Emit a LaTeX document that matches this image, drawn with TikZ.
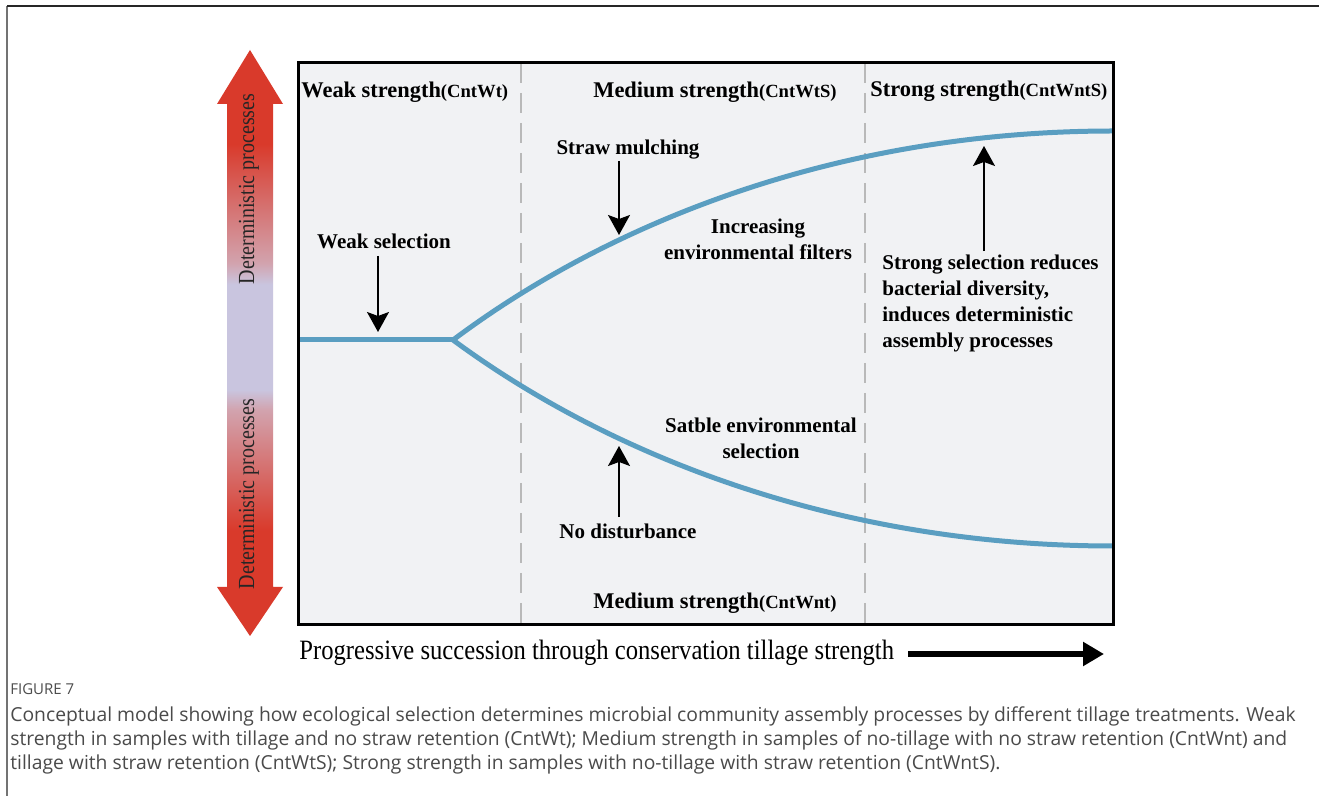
\documentclass[tikz,border=0pt]{standalone}
\usepackage{graphicx}
\usepackage{fontspec}
\setmainfont{Liberation Serif}
\newfontfamily\capfont{Open Sans}
\usetikzlibrary{arrows.meta}

\definecolor{detred}{HTML}{D93A2B}
\definecolor{detpink}{HTML}{D2A3AE}
\definecolor{detlav}{HTML}{C9C5DF}
\definecolor{panel}{HTML}{F1F2F4}
\definecolor{branchblue}{HTML}{5A9EC1}
\definecolor{capgray}{HTML}{4A4A4A}
\definecolor{guidegray}{HTML}{B9B9B9}

% red - lavender - red band for the two-headed process arrow
\pgfdeclareverticalshading{detshade}{100bp}{color(0bp)=(detred); color(34bp)=(detred); color(44.3bp)=(detpink); color(46bp)=(detlav); color(55bp)=(detlav); color(56.8bp)=(detpink); color(67bp)=(detred); color(100bp)=(detred)}

\begin{document}
\begin{tikzpicture}[x=0.5pt,y=-0.5pt,
  hdr/.style={font=\bfseries\fontsize{11.2pt}{13pt}\selectfont, anchor=west, inner sep=0pt},
  lbl/.style={font=\bfseries\fontsize{10.5pt}{13pt}\selectfont, align=center, inner sep=0pt},
  sidelbl/.style={font=\fontsize{11.5pt}{13pt}\selectfont, text=black!85, rotate=90, inner sep=0pt},
  pointer/.style={-{Stealth[length=10pt,width=11pt,inset=2pt]}, line width=0.75pt},
  branch/.style={draw=branchblue, line width=2.5pt},
  guide/.style={draw=guidegray, line width=0.6pt, dash pattern=on 10pt off 5pt}
]
\useasboundingbox (0,0) rectangle (1319,796);
\fill[white] (0,0) rectangle (1319,796);

% page frame
\draw[line width=1pt, black!55] (7,6) -- (7,796);
\draw[line width=1pt, black!85] (7,6) -- (1319,6);

% panel
\fill[panel] (298,63) rectangle (1113,625);
\draw[guide] (521,63) -- (521,625);
\draw[guide] (865,63) -- (865,625);

% two-headed process arrow
\shade[shading=detshade] (250,50) -- (283,104) -- (273,104) -- (273,587) -- (283,587) -- (250,636)
  -- (217,587) -- (227,587) -- (227,104) -- (217,104) -- cycle;
\node[sidelbl] (detTop) at (249,189) {\scalebox{0.87}[1]{Deterministic processes}};
\node[sidelbl] (detBot) at (249,494) {\scalebox{0.87}[1]{Deterministic processes}};

% branching curves
\coordinate (lStart) at (298,340);
\coordinate (fork) at (453,340);
\coordinate (upEnd) at (1113,131);
\coordinate (loEnd) at (1113,546);
\draw[branch] (lStart) -- (fork);
\draw[branch] (fork) .. controls (620,215) and (850,131) .. (upEnd);
\draw[branch] (fork) .. controls (620,463) and (850,546) .. (loEnd);

\draw[line width=1.5pt] (298,63) rectangle (1113,625);

% column headers
\node[hdr] (hWeak) at (301,92) {Weak strength{\fontsize{9.3pt}{11pt}\selectfont(CntWt)}};
\node[hdr] (hMedT) at (593,92) {Medium strength{\fontsize{9.3pt}{11pt}\selectfont(CntWtS)}};
\node[hdr] (hStrong) at (870,91) {Strong strength{\fontsize{9.3pt}{11pt}\selectfont(CntWntS)}};
\node[hdr] (hMedB) at (593,603) {Medium strength{\fontsize{9.3pt}{11pt}\selectfont(CntWnt)}};

% labels
\node[lbl] (wsel) at (384,241) {Weak selection};
\node[lbl] (straw) at (628,150) {Straw mulching};
\node[lbl] (incr) at (758,239) {Increasing\\environmental filters};
\node[lbl, align=left, anchor=west] (strongsel) at (882,303) {Strong selection reduces\\bacterial diversity,\\induces deterministic\\assembly processes};
\node[lbl] (stable) at (761,438) {Satble environmental\\selection};
\node[lbl] (nodist) at (628,531) {No disturbance};

% pointers onto the curves
\coordinate (tWeak) at (378,332);
\coordinate (tStraw) at (619,235);
\coordinate (tStrong) at (984,146);
\coordinate (tNo) at (619,446);
\draw[pointer] (tWeak |- wsel.south) ++(0,7) -- (tWeak);
\draw[pointer] (tStraw |- straw.south) ++(0,1) -- (tStraw);
\draw[pointer] (tStrong |- strongsel.north) ++(0,-3) -- (tStrong);
\draw[pointer] (tNo |- nodist.north) ++(0,-6) -- (tNo);

% succession axis
\node[font=\fontsize{14pt}{16pt}\selectfont, anchor=west, inner sep=0pt] (axis) at (299,653) {\scalebox{0.88}[1]{Progressive succession through conservation tillage strength}};
\coordinate (axEnd) at (1104,654);
\draw[line width=3pt, -{Triangle[length=10.5pt,width=11.5pt]}] ([xshift=7pt]axis.east |- axEnd) -- (axEnd);

% caption
\node[font=\capfont\fontsize{7.5pt}{9pt}\selectfont, text=black!70, anchor=base west, inner sep=0pt] (figlbl) at (10,695) {FIGURE 7};
\node[font=\capfont\fontsize{9.65pt}{12pt}\selectfont, text=capgray, anchor=north west, align=left, inner sep=0pt] (caption) at (10,706)
  {Conceptual model showing how ecological selection determines microbial community assembly processes by different tillage treatments. Weak\\
   strength in samples with tillage and no straw retention (CntWt); Medium strength in samples of no-tillage with no straw retention (CntWnt) and\\
   tillage with straw retention (CntWtS); Strong strength in samples with no-tillage with straw retention (CntWntS).};
\end{tikzpicture}
\end{document}
